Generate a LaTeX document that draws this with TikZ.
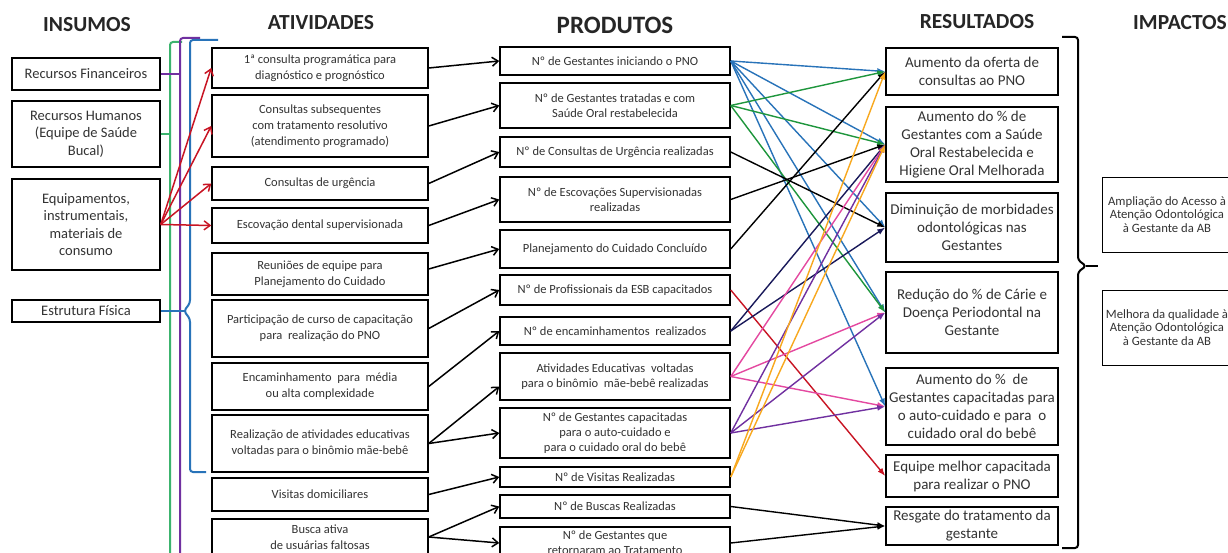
\documentclass[tikz,border=0pt]{standalone}
\usepackage{fontspec}
\setmainfont{Carlito}
\usetikzlibrary{arrows.meta}

\definecolor{azul}{RGB}{40,115,185}
\definecolor{verde}{RGB}{30,150,60}
\definecolor{verdeclaro}{RGB}{60,180,110}
\definecolor{roxo}{RGB}{112,48,160}
\definecolor{rosa}{RGB}{228,72,160}
\definecolor{laranja}{RGB}{248,168,30}
\definecolor{marinho}{RGB}{25,25,90}
\definecolor{vermelho}{RGB}{200,20,35}

\begin{document}
\begin{tikzpicture}[x=1pt, y=-1pt]

	% Define box styles for each column
	\tikzstyle{caixa} = [rectangle, draw, line width=1.5pt, align=center, text=black!80, inner sep=1pt]
	\tikzstyle{insumo} = [caixa, minimum width=148pt, font=\fontsize{14.5}{17.5}\selectfont]
	\tikzstyle{atividade} = [caixa, minimum width=216pt, font=\fontsize{12.5}{16}\selectfont]
	\tikzstyle{produto} = [caixa, minimum width=230pt, font=\fontsize{12.5}{15}\selectfont]
	\tikzstyle{resultado} = [caixa, minimum width=172pt, font=\fontsize{15}{18}\selectfont]
	\tikzstyle{impacto} = [caixa, line width=0.8pt, minimum width=130pt, minimum height=75pt, font=\fontsize{12.7}{13.5}\selectfont]
	\tikzstyle{titulo} = [font=\bfseries\fontsize{21.5}{23}\selectfont, text=black!85]
	\tikzstyle{seta} = [-{Straight Barb[length=6pt, width=9pt]}, line width=1.5pt]
	\tikzstyle{liga} = [-{Latex[length=8pt, width=6pt]}, line width=1.4pt]
	\tikzstyle{chave} = [line width=2pt, rounded corners=3pt]

	\clip (0,0) rectangle (1228,553);
	\fill[white] (0,0) rectangle (1228,553);

	% Column titles
	\node[titulo] (tInsumos) at (87,25) {INSUMOS};
	\node[titulo] (tAtividades) at (321,23) {ATIVIDADES};
	\node[titulo, font=\bfseries\fontsize{25}{27}\selectfont] (tProdutos) at (615,25) {PRODUTOS};
	\node[titulo] (tResultados) at (977,22) {RESULTADOS};
	\node[titulo] (tImpactos) at (1180,23) {IMPACTOS};

	% Insumos
	\node[insumo, minimum height=32pt] (fin) at (86,74) {Recursos Financeiros};
	\node[insumo, minimum height=66pt] (hum) at (86,134) {Recursos Humanos\\(Equipe de Saúde\\Bucal)};
	\node[insumo, minimum height=91pt] (equip) at (86,224.5) {Equipamentos,\\instrumentais,\\materiais de\\consumo};
	\node[insumo, minimum height=22pt] (estr) at (86,311) {Estrutura Física};

	% Atividades
	\node[atividade, minimum height=40pt] (a1) at (320,68) {1ª consulta programática para\\diagnóstico e prognóstico};
	\node[atividade, minimum height=62pt] (a2) at (320,126) {Consultas subsequentes\\com tratamento resolutivo\\(atendimento programado)};
	\node[atividade, minimum height=33pt] (a3) at (320,183.5) {Consultas de urgência};
	\node[atividade, minimum height=35pt] (a4) at (320,225.5) {Escovação dental supervisionada};
	\node[atividade, minimum height=42pt] (a5) at (320,274) {Reuniões de equipe para\\Planejamento do Cuidado};
	\node[atividade, minimum height=57pt] (a6) at (320,328.5) {Participação de curso de capacitação\\para\ \ realização do PNO};
	\node[atividade, minimum height=47pt] (a7) at (320,386.5) {Encaminhamento\ \ para\ \ média\\ou alta complexidade};
	\node[atividade, minimum height=57pt] (a8) at (320,443.5) {Realização de atividades educativas\\voltadas para o binômio mãe-bebê};
	\node[atividade, minimum height=33pt] (a9) at (320,494.5) {Visitas domiciliares};
	\node[atividade, minimum height=36pt] (a10) at (320,537) {Busca ativa\\de usuárias faltosas};

	% Produtos
	\node[produto, minimum height=28pt] (p1) at (615,61) {Nº de Gestantes iniciando o PNO};
	\node[produto, minimum height=45pt] (p2) at (615,105.5) {Nº de Gestantes tratadas e com\\Saúde Oral restabelecida};
	\node[produto, minimum height=30pt] (p3) at (615,152) {Nº de Consultas de Urgência realizadas};
	\node[produto, minimum height=45pt] (p4) at (615,199.5) {Nº de Escovações Supervisionadas\\realizadas};
	\node[produto, minimum height=38pt] (p5) at (615,249) {Planejamento do Cuidado Concluído};
	\node[produto, minimum height=30pt] (p6) at (615,290) {Nº de Profissionais da ESB capacitados};
	\node[produto, minimum height=28pt] (p7) at (615,331) {Nº de encaminhamentos\ \ realizados};
	\node[produto, minimum height=47pt] (p8) at (615,376.5) {Atividades Educativas\ \ voltadas\\para o binômio\ \ mãe-bebê realizadas};
	\node[produto, minimum height=50pt] (p9) at (615,433) {Nº de Gestantes capacitadas\\para o auto-cuidado e\\para o cuidado oral do bebê};
	\node[produto, minimum height=20pt] (p10) at (615,477) {Nº de Visitas Realizadas};
	\node[produto, minimum height=23pt] (p11) at (615,506.5) {Nº de Buscas Realizadas};
	\node[produto, minimum height=32pt] (p12) at (615,543) {Nº de Gestantes que\\retornaram ao Tratamento};

	% Resultados
	\node[resultado, minimum height=47pt] (r1) at (972,71.5) {Aumento da oferta de\\consultas ao PNO};
	\node[resultado, minimum height=75pt] (r2) at (972,144.5) {Aumento do \% de\\Gestantes com a Saúde\\Oral Restabelecida e\\Higiene Oral Melhorada};
	\node[resultado, minimum height=69pt] (r3) at (972,227.5) {Diminuição de morbidades\\odontológicas nas\\Gestantes};
	\node[resultado, minimum height=81pt] (r4) at (972,312.5) {Redução do \% de Cárie e\\Doença Periodontal na\\Gestante};
	\node[resultado, minimum height=77pt] (r5) at (972,406.5) {Aumento do \%\ \ de\\Gestantes capacitadas para\\o auto-cuidado e para\ \ o\\cuidado oral do bebê};
	\node[resultado, minimum height=42pt] (r6) at (972,476) {Equipe melhor capacitada\\para realizar o PNO};
	\node[resultado, minimum height=38pt] (r7) at (972,526) {Resgate do tratamento da\\gestante};

	% Impactos
	\node[impacto] (i1) at (1167,214.5) {Ampliação do Acesso à\\Atenção Odontológica\\à Gestante da AB};
	\node[impacto] (i2) at (1167,327.5) {Melhora da qualidade à\\Atenção Odontológica\\à Gestante da AB};

	% Brackets
	\coordinate (cVerde) at (170,0);
	\coordinate (cRoxa) at (180,0);
	\coordinate (cAzul) at (184,311);
	\coordinate (cPreta) at (1086,266);
	\draw[chave, verdeclaro] (182,42) -- (170,42) -- (170,570);
	\draw[chave, roxo] (200,38) -- (180,38) -- (180,570);
	\draw[chave, azul] (218,40) -- (190,40) -- (190,303) -- (cAzul) -- (190,319) -- (190,472) -- (206,472);
	\draw[line width=2pt, verdeclaro] (hum.east) -- (hum.east -| cVerde);
	\draw[line width=2pt, roxo] (fin.east) -- (fin.east -| cRoxa);
	\draw[line width=2pt, azul] (estr.east) -- (cAzul);
	\draw[chave, black] (1062,37) -- (1078,37) -- (1078,260) -- (cPreta) -- (1078,272) -- (1078,548) -- (1062,548);
	\draw[line width=2pt] (cPreta) -- (1098,266);

	% Insumos to atividades
	\draw[seta, vermelho] (equip.east) -- (a1.west);
	\draw[seta, vermelho] (equip.east) -- (a2.west);
	\draw[seta, vermelho] (equip.east) -- (a3.west);
	\draw[seta, vermelho] (equip.east) -- (a4.west);

	% Atividades to produtos
	\draw[seta] (a1.east) -- (p1.west);
	\draw[seta] (a2.east) -- (p2.west);
	\draw[seta] (a3.east) -- (p3.west);
	\draw[seta] (a4.east) -- (p4.west);
	\draw[seta] ([yshift=5pt]a5.east) -- (p5.west);
	\draw[seta] (a6.east) -- (p6.west);
	\draw[seta] (a7.east) -- (p7.west);
	\draw[seta] (a8.east) -- ([yshift=-10pt]p8.west);
	\draw[seta] (a8.east) -- (p9.west);
	\draw[seta] (a9.east) -- (p10.west);
	\draw[seta] (a10.east) -- (p11.west);
	\draw[seta] (a10.east) -- (p12.west);

	% Produtos to resultados
	\draw[liga, azul] (p1.east) -- (r1.west);
	\draw[liga, azul] (p1.east) -- (r2.west);
	\draw[liga, azul] (p1.east) -- (r3.west);
	\draw[liga, azul] (p1.east) -- (r4.west);
	\draw[liga, azul] (p1.east) -- (r5.west);
	\draw[liga, verde] (p2.east) -- (r1.west);
	\draw[liga, verde] (p2.east) -- (r2.west);
	\draw[liga, verde] (p2.east) -- (r4.west);
	\draw[liga] (p3.east) -- (r3.west);
	\draw[liga] (p4.east) -- (r2.west);
	\draw[liga] (p5.east) -- (r1.west);
	\draw[liga, vermelho] (p6.east) -- (r6.west);
	\draw[liga, marinho] (p7.east) -- (r2.west);
	\draw[liga, marinho] (p7.east) -- (r3.west);
	\draw[liga, rosa] (p8.east) -- (r2.west);
	\draw[liga, rosa] (p8.east) -- (r4.west);
	\draw[liga, rosa] (p8.east) -- (r5.west);
	\draw[liga, roxo] (p9.east) -- (r2.west);
	\draw[liga, roxo] (p9.east) -- (r4.west);
	\draw[liga, roxo] (p9.east) -- (r5.west);
	\draw[liga, laranja] (p10.east) -- (r1.west);
	\draw[liga, laranja] (p10.east) -- (r2.west);
	\draw[liga] (p11.east) -- (r7.west);
	\draw[liga] (p12.east) -- (r7.west);

\end{tikzpicture}
\end{document}
